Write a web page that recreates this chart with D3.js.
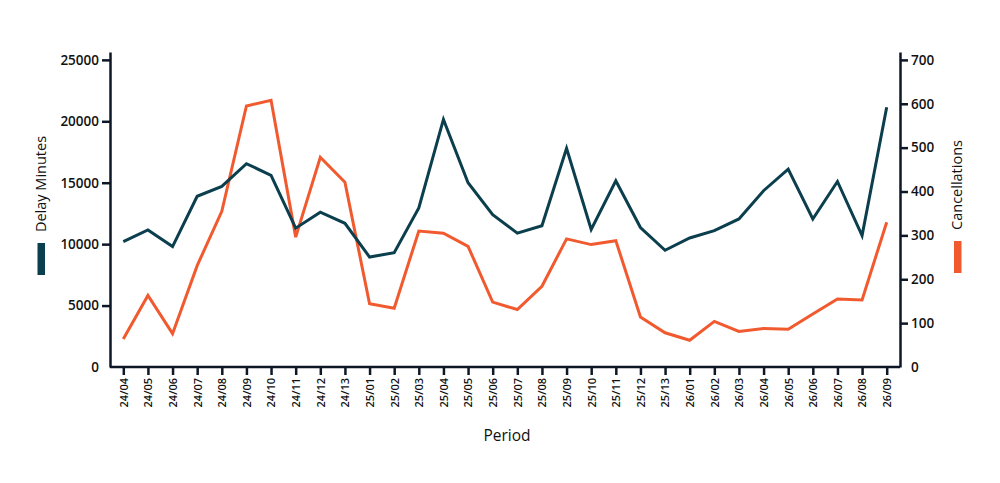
<!DOCTYPE html>
<html>
<head>
<meta charset="utf-8">
<script src="https://cdn.jsdelivr.net/npm/d3@7"></script>
<style>
    body { margin: 0; background: #fff; }
    text { font-family: "Open Sans", sans-serif; fill: #111; }
</style>
</head>
<body>
<svg id="chart"></svg>
<script>
const periods = ['24/04','24/05','24/06','24/07','24/08','24/09','24/10','24/11','24/12','24/13',
    '25/01','25/02','25/03','25/04','25/05','25/06','25/07','25/08','25/09','25/10','25/11','25/12','25/13',
    '26/01','26/02','26/03','26/04','26/05','26/06','26/07','26/08','26/09'];
const delayMinutes = [10200, 11150, 9800, 13900, 14700, 16550, 15600, 11300, 12600, 11700,
    8950, 9300, 12950, 20150, 15000, 12400, 10900, 11500, 17800, 11200, 15150, 11350, 9500,
    10500, 11100, 12050, 14350, 16100, 12050, 15100, 10700, 21150];
const cancellations = [64, 163, 76, 231, 355, 595, 608, 296, 478, 421,
    144, 134, 310, 305, 275, 148, 131, 184, 292, 279, 288, 114, 78,
    61, 104, 81, 88, 86, 121, 155, 153, 330];
const delayTicks = [0, 5000, 10000, 15000, 20000, 25000];
const cancelTicks = [0, 100, 200, 300, 400, 500, 600, 700];

const teal = '#0b3f4d';
const orange = '#f15a2f';
const axisColor = '#0e1726';

const width = 1000, height = 483;
const margin = {top: 52, right: 100, bottom: 116, left: 110};
const plotW = width - margin.left - margin.right;
const plotH = height - margin.top - margin.bottom;

const svg = d3.select('#chart')
    .attr('width', width)
    .attr('height', height);

const xScale = d3.scalePoint().domain(periods).range([margin.left, width - margin.right]).padding(0.54);
// axis lines run a bit above the top tick
const yLeft = d3.scaleLinear().domain([0, 25640]).range([margin.top + plotH, margin.top]);
const yRight = d3.scaleLinear().domain([0, 718]).range([margin.top + plotH, margin.top]);

function styleAxis(g) {
    g.select('.domain').attr('stroke', axisColor).attr('stroke-width', 2.5);
    g.selectAll('.tick line').attr('stroke', axisColor).attr('stroke-width', 2.5);
    g.selectAll('.tick text').style('font-family', '"Open Sans", sans-serif').style('font-weight', 600).attr('fill', '#111');
}

// x axis
const gx = svg.append('g')
    .attr('transform', `translate(0, ${margin.top + plotH})`)
    .call(d3.axisBottom(xScale).tickSize(8).tickSizeOuter(0).tickPadding(4))
    .call(styleAxis);
gx.select('.domain').attr('d', `M${margin.left},0H${width - margin.right}`);
gx.selectAll('.tick text')
    .style('font-size', '11px')
    .style('text-anchor', 'end')
    .attr('transform', 'rotate(-90)')
    .attr('x', -11)
    .attr('y', 0)
    .attr('dy', '0.35em');

// left y axis
const gl = svg.append('g')
    .attr('transform', `translate(${margin.left}, 0)`)
    .call(d3.axisLeft(yLeft).tickValues(delayTicks).tickFormat(d3.format('d')).tickSize(8).tickSizeOuter(0).tickPadding(3))
    .call(styleAxis);
gl.selectAll('.tick text').style('font-size', '13.5px');
gl.selectAll('.tick').filter(d => d === 0).select('line').remove();

// right y axis
const gr = svg.append('g')
    .attr('transform', `translate(${width - margin.right}, 0)`)
    .call(d3.axisRight(yRight).tickValues(cancelTicks).tickSize(8).tickSizeOuter(0).tickPadding(3))
    .call(styleAxis);
gr.selectAll('.tick text').style('font-size', '13.5px');
gr.selectAll('.tick').filter(d => d === 0).select('line').remove();

// lines
const delayLine = d3.line()
    .x((d, i) => xScale(periods[i]))
    .y(d => yLeft(d));
const cancelLine = d3.line()
    .x((d, i) => xScale(periods[i]))
    .y(d => yRight(d));

svg.append('path')
    .datum(cancellations)
    .attr('fill', 'none')
    .attr('stroke', orange)
    .attr('stroke-width', 3)
    .attr('stroke-linejoin', 'miter')
    .attr('d', cancelLine);

svg.append('path')
    .datum(delayMinutes)
    .attr('fill', 'none')
    .attr('stroke', teal)
    .attr('stroke-width', 3)
    .attr('stroke-linejoin', 'miter')
    .attr('d', delayLine);

// axis titles with legend swatches
const leftTitle = svg.append('g').attr('transform', 'translate(46, 184)');
leftTitle.append('text')
    .attr('transform', 'rotate(-90)')
    .attr('text-anchor', 'middle')
    .style('font-size', '14.5px')
    .style('font-weight', 500)
    .text('Delay Minutes');
leftTitle.append('rect')
    .attr('x', -8.5).attr('y', 59)
    .attr('width', 7.5).attr('height', 32)
    .attr('fill', teal);

const rightTitle = svg.append('g').attr('transform', 'translate(962, 185)');
rightTitle.append('text')
    .attr('transform', 'rotate(-90)')
    .attr('text-anchor', 'middle')
    .style('font-size', '14.5px')
    .style('font-weight', 500)
    .text('Cancellations');
rightTitle.append('rect')
    .attr('x', -8).attr('y', 56)
    .attr('width', 7.5).attr('height', 32)
    .attr('fill', orange);

svg.append('text')
    .attr('x', (margin.left + width - margin.right) / 2 + 2)
    .attr('y', 441)
    .attr('text-anchor', 'middle')
    .style('font-size', '15.5px')
    .style('font-weight', 500)
    .text('Period');
</script>
</body>
</html>
